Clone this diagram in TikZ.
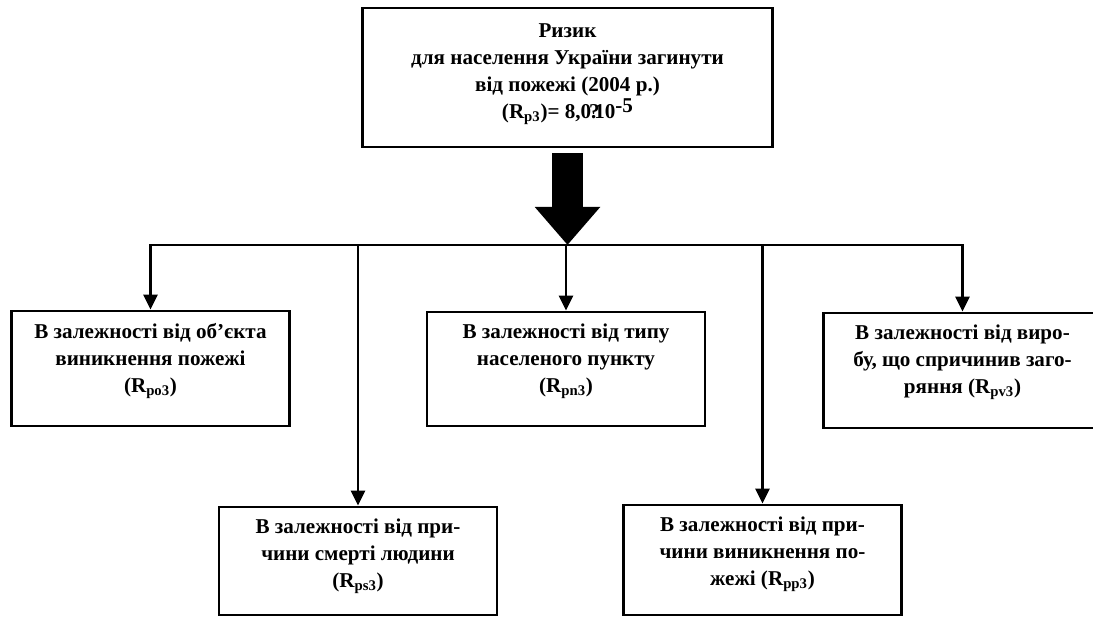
\documentclass[tikz,border=0pt]{standalone}
\usepackage{fontspec}
\setmainfont{Liberation Serif}
\usetikzlibrary{positioning}
\usetikzlibrary{arrows.meta}

\newcommand{\Rsub}[1]{R\textsubscript{#1}}

\begin{document}
\begin{tikzpicture}
  [blk/.style = {draw, line width=2pt, inner sep=0pt, minimum width=6.95cm},
   lbl/.style = {align=center, inner sep=0pt, font=\fontsize{15}{19.2}\selectfont\bfseries},
   link/.style = {line width=2pt, -{Triangle[length=0.375cm, width=0.35cm]}}]
  \useasboundingbox (0,0) rectangle (27.325,-15.425);

  \node (risk) [blk, minimum width=10.25cm, minimum height=3.475cm] at (14.1875,-1.9375) {};
  \node (obj)  [blk, minimum height=2.875cm] at (3.7625,-9.2125) {};
  \node (town) [blk, minimum height=2.85cm]  at (14.15,-9.225) {};
  \node (item) [blk, minimum height=2.875cm] at (24.0625,-9.2625) {};
  \node (death)[blk, minimum height=2.7cm]   at (8.95,-14.025) {};
  \node (cause)[blk, minimum height=2.75cm]  at (19.0625,-14.0) {};
  \coordinate (hub) at (14.1875,-6.125);

  \node [lbl, below=0.42cm of risk.north] {Ризик\\ для населення України загинути\\ від пожежі (2004 р.)\\
    (\Rsub{p3})= 8,0\kern-0.1em?\kern-0.25em10\raisebox{0.3em}{-5}};
  \node [lbl, below=0.33cm of obj.north] {В залежності від об’єкта\\ виникнення пожежі\\ (\Rsub{po3})};
  \node [lbl, below=0.33cm of town.north] {В залежності від типу\\ населеного пункту\\ (\Rsub{pn3})};
  \node [lbl, below=0.33cm of item.north] {В залежності від виро-\\ бу, що спричинив заго-\\ ряння (\Rsub{pv3})};
  \node [lbl, below=0.33cm of death.north] {В залежності від при-\\ чини смерті людини\\ (\Rsub{ps3})};
  \node [lbl, below=0.33cm of cause.north] {В залежності від при-\\ чини виникнення по-\\ жежі (\Rsub{pp3})};

  \draw [line width=0.775cm, -{Triangle[length=0.95cm, width=1.575cm]}] ([yshift=-0.125cm]risk.south) -- (hub);
  \draw [link] (hub) -| (obj);
  \draw [link] (hub) -| (death);
  \draw [link] (hub) -| (town);
  \draw [link] (hub) -| (cause);
  \draw [link] (hub) -| (item);
\end{tikzpicture}
\end{document}
